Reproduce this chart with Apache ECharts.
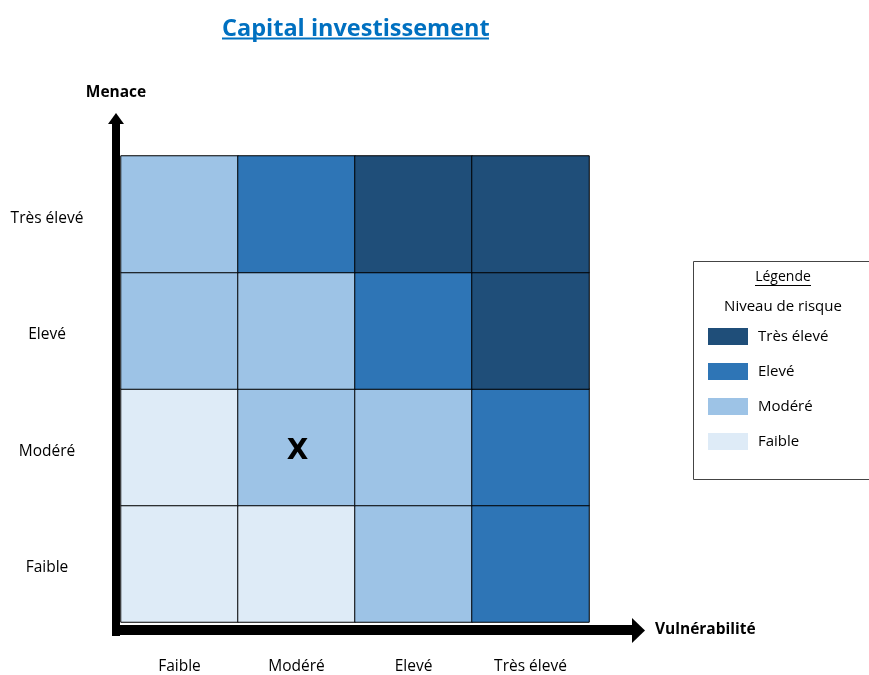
<!DOCTYPE html>
<html>
<head>
<meta charset="utf-8">
<title>Capital investissement</title>
<script src="https://cdn.jsdelivr.net/npm/echarts@6/dist/echarts.min.js"></script>
<style>
  html, body { margin: 0; padding: 0; background: #fff; }
  #Chart { width: 869px; height: 675px; }
</style>
</head>
<body>
<div id="Chart"></div>
<script>
  // axes: vulnérabilité (x) et menace (y, du bas vers le haut)
  var vulnerabilite = ['Faible', 'Modéré', 'Elevé', 'Très élevé']
  var menace = ['Faible', 'Modéré', 'Elevé', 'Très élevé']
  // niveaux de risque (index 0..3)
  var niveaux = ['Faible', 'Modéré', 'Elevé', 'Très élevé']
  // une ligne par niveau de menace, du bas vers le haut
  var risqueFaible = [0, 0, 1, 2]
  var risqueModere = [0, 1, 1, 2]
  var risqueEleve = [1, 1, 2, 3]
  var risqueTresEleve = [1, 2, 3, 3]
  var matrice = [risqueFaible, risqueModere, risqueEleve, risqueTresEleve]
  // position actuelle (vulnérabilité, menace)
  var position = ['Modéré', 'Modéré']

  var couleurs = ['#DEEBF7', '#9DC3E6', '#2E75B6', '#1F4E79']
  var police = 'Open Sans'

  var data = []
  matrice.forEach(function (ligne, y) {
    ligne.forEach(function (v, x) {
      data.push([x, y, v])
    })
  })

  var Chart = echarts.init(document.getElementById('Chart'))
  Chart.setOption({
    animation: false,
    title: {
      text: 'Capital investissement',
      left: 217,
      top: 12,
      textStyle: { fontFamily: police, fontSize: 23.5, fontWeight: 'bold', color: '#0070C0' }
    },
    grid: { left: 121, top: 156, width: 468, height: 467 },
    xAxis: {
      type: 'category',
      data: vulnerabilite,
      offset: 8,
      name: 'Vulnérabilité',
      nameLocation: 'end',
      nameGap: 66,
      nameTextStyle: { fontFamily: police, fontSize: 15.5, fontWeight: 'bold', color: '#000' },
      axisLine: { show: false },
      axisTick: { show: false },
      splitLine: { show: false },
      axisLabel: { margin: 29, fontFamily: police, fontSize: 15.5, color: '#000' }
    },
    yAxis: {
      type: 'category',
      data: menace,
      offset: 5,
      name: 'Menace',
      nameLocation: 'end',
      nameGap: 55,
      nameTextStyle: { fontFamily: police, fontSize: 15.5, fontWeight: 'bold', color: '#000' },
      axisLine: { show: false },
      axisTick: { show: false },
      splitLine: { show: false },
      axisLabel: {
        margin: 69,
        align: 'center',
        formatter: '{v|{value}}',
        rich: { v: { fontFamily: police, fontSize: 15.5, color: '#000', padding: [8, 0, 0, 0] } }
      }
    },
    visualMap: {
      type: 'piecewise',
      dimension: 2,
      orient: 'vertical',
      align: 'left',
      left: 708,
      top: 328,
      padding: 0,
      itemWidth: 40,
      itemHeight: 17,
      itemGap: 18,
      textGap: 10,
      itemSymbol: 'rect',
      showLabel: true,
      selectedMode: false,
      textStyle: { fontFamily: police, fontSize: 15, color: '#000' },
      pieces: niveaux.map(function (n, i) {
        return { value: i, label: n, color: couleurs[i] }
      })
    },
    graphic: [
      // encadré de la légende
      { type: 'rect', shape: { x: 693.5, y: 261.5, width: 190, height: 218 }, style: { fill: 'none', stroke: '#444', lineWidth: 1 } },
      { type: 'text', x: 783, y: 277, style: { text: 'Légende', align: 'center', verticalAlign: 'middle', fontFamily: police, fontSize: 14, fill: '#000' } },
      { type: 'line', shape: { x1: 755, y1: 285.5, x2: 811, y2: 285.5 }, style: { stroke: '#000', lineWidth: 1 } },
      { type: 'text', x: 783, y: 307, style: { text: 'Niveau de risque', align: 'center', verticalAlign: 'middle', fontFamily: police, fontSize: 15, fill: '#000' } },
      // soulignement du titre
      { type: 'line', shape: { x1: 222, y1: 38.5, x2: 489, y2: 38.5 }, style: { stroke: '#0070C0', lineWidth: 2 } },
      // flèche verticale (menace)
      { type: 'rect', shape: { x: 112, y: 120, width: 8, height: 516 }, style: { fill: '#000' } },
      { type: 'polygon', shape: { points: [[108, 124], [116, 113], [124, 124]] }, style: { fill: '#000' } },
      // flèche horizontale (vulnérabilité)
      { type: 'rect', shape: { x: 112, y: 625, width: 521, height: 10 }, style: { fill: '#000' } },
      { type: 'polygon', shape: { points: [[632, 618], [645, 630.5], [632, 643]] }, style: { fill: '#000' } }
    ],
    series: [{
      type: 'heatmap',
      data: data,
      itemStyle: { borderColor: '#000', borderWidth: 1 },
      emphasis: { disabled: true },
      label: {
        show: true,
        offset: [1, 4],
        fontFamily: 'DejaVu Sans',
        fontSize: 28,
        fontWeight: 'bold',
        color: '#000',
        formatter: function (p) {
          return vulnerabilite[p.value[0]] === position[0] && menace[p.value[1]] === position[1] ? 'X' : ''
        }
      }
    }]
  })
</script>
</body>
</html>
